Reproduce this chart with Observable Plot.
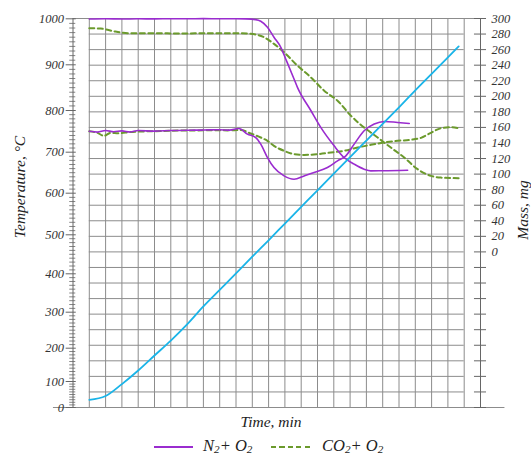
<!DOCTYPE html>
<html><head><meta charset="utf-8">
<script src="https://cdn.jsdelivr.net/npm/d3@7"></script>
<script src="https://cdn.jsdelivr.net/npm/@observablehq/plot@0.6"></script>
<style>
body{margin:0;background:#fff;}
#wrap{position:relative;width:531px;height:456px;overflow:hidden;font-family:"Liberation Serif","DejaVu Serif",serif;font-style:italic;color:#222;}
#wrap svg{position:absolute;left:0;top:0;}
.lbl{position:absolute;font-size:15.5px;white-space:nowrap;line-height:1;}
.rot{transform:translate(-50%,-50%) rotate(-90deg);}
.hc{transform:translate(-50%,-50%);}
.leg{position:absolute;font-size:16.5px;white-space:nowrap;line-height:1;}
.leg sub{font-size:0.68em;vertical-align:-0.22em;line-height:0;}
.sw{position:absolute;height:2px;}
</style></head><body><div id="wrap"></div>
<script>
// ---- data ----
const tempTicks = [0, 100, 200, 300, 400, 500, 600, 700, 800, 900, 1000];
const massTicks = [0, 20, 40, 60, 80, 100, 120, 140, 160, 180, 200, 220, 240, 260, 280, 300];

// furnace temperature, °C (left axis)
const tempTime  = [1, 2, 3, 4, 5, 6, 7, 8, 9, 10, 11, 12, 13, 14, 15, 16, 17, 18, 19, 20, 21, 22, 23, 23.66];
const tempValue = [29, 44, 90, 133, 178, 221, 266, 315, 358, 401, 444, 486, 527, 567, 607, 648, 688, 728, 768, 807, 844, 880, 916, 940];

// N2 + O2, mass, mg (right axis) – upper curve
const n2aTime = [1, 2, 3, 4, 5, 6, 7, 8, 9, 10, 10.6, 11.2, 11.52, 11.93, 12.33, 12.75, 13.05, 13.56, 13.77, 14.6, 15.2, 16.02, 16.63, 17.25, 17.86, 18.27, 19, 20, 20.53];
const n2aMass = [299.4, 299.7, 299.3, 299.6, 299.5, 299.7, 299.6, 299.8, 299.7, 299.7, 299.5, 298.6, 296.5, 288.8, 275.9, 263, 248, 222.3, 211.5, 181.4, 160, 136.3, 121.3, 112.8, 106.3, 104.1, 104.3, 104.6, 105];
// N2 + O2 – lower curve
const n2bTime = [1, 1.5, 2, 2.5, 3, 3.5, 4, 5, 6, 7, 8, 9, 9.6, 10.18, 10.7, 11.21, 11.52, 11.93, 12.33, 12.95, 13.56, 14.18, 14.79, 15.61, 16.23, 16.74, 17.25, 17.86, 18.48, 19.09, 19.91, 20.63];
const n2bMass = [155, 154, 156, 154.5, 155.5, 154.2, 156, 155.2, 156, 156.4, 156.6, 157, 156.5, 158.6, 151.4, 147, 138.5, 121.3, 108.4, 97.7, 93.4, 97.7, 102, 108.4, 117, 123.5, 138.5, 155.7, 164.3, 167.7, 166.4, 165.1];

// CO2 + O2 – upper curve
const co2aTime = [1, 1.7, 2.6, 3.5, 5, 6.5, 8, 9.5, 10.3, 10.9, 11.72, 12.33, 12.95, 13.77, 14.59, 15.41, 16.23, 17.05, 17.86, 18.69, 19.5, 20.32, 21.14, 21.96, 22.57, 23.7];
const co2aMass = [287.5, 287, 283.2, 280.9, 281, 280.8, 281, 281.2, 281, 280.3, 275.9, 267.4, 256.6, 239.4, 224.4, 207.2, 194.3, 175, 159.9, 147, 134.1, 121.3, 106.3, 97.7, 95.5, 94.7];
// CO2 + O2 – lower curve
const co2bTime = [1, 1.5, 1.9, 2.3, 2.8, 3.5, 4.5, 5.5, 6.5, 7.5, 8.5, 9.5, 10.29, 10.9, 11.52, 11.93, 12.33, 12.95, 13.56, 14.18, 15, 15.82, 16.63, 17.46, 18.27, 19.09, 19.91, 20.73, 21.35, 21.96, 22.57, 23.19, 23.68];
const co2bMass = [155, 153, 149.2, 153, 152.5, 154, 155, 155.3, 156, 156, 156.5, 156.2, 156.6, 152.2, 147, 142.8, 136.3, 129.9, 125.6, 124.7, 125.6, 127.7, 129.9, 134.1, 137.6, 140.6, 142.8, 144.1, 146.6, 153.1, 158.9, 160.2, 158.9];

const seriesNames = ["N\u2082+ O\u2082", "CO\u2082+ O\u2082"];

// ---- build ----
const W = 531, H = 430;
const FONT = "Liberation Serif, DejaVu Serif, serif";
const PURPLE = "#9a2ccf", GREEN = "#6b9a2c", CYAN = "#1ab4e8", GRID = "#8c8c8c", AXIS = "#666";
const xOpt = {domain: [0, 25], range: [72.5, 480], axis: null};
const k = v => () => v;   // constant channel

const zip = (ts, vs) => ts.map((t, i) => ({t, v: vs[i]}));
const gridX = d3.range(1, 25);
const gridY = d3.range(-180, 300, 20);
const tickM = d3.range(-200, 301, 20);
const minorT = d3.range(10, 1000, 10).filter(v => v % 100 !== 0);

const plotMass = Plot.plot({
  width: W, height: H,
  x: xOpt,
  y: {domain: [-200, 300], range: [407, 18], axis: null},
  style: {background: "white"},
  marks: [
    Plot.ruleY(gridY, {y: d => d, x1: k(1), x2: k(24), stroke: GRID, strokeWidth: 1}),
    Plot.ruleX(gridX, {x: d => d, y1: k(-200), y2: k(300), stroke: GRID, strokeWidth: 1}),
    Plot.ruleY([300], {y: d => d, x1: k(0), x2: k(25), stroke: GRID}),
    Plot.ruleY([-200], {y: d => d, x1: k(-1.2), x2: k(26.5), stroke: GRID}),
    Plot.ruleX([25], {x: d => d, y1: k(-200), y2: k(300), stroke: AXIS}),
    Plot.ruleY(tickM, {y: d => d, x1: k(24.63), x2: k(25.37), stroke: AXIS}),
    Plot.text(massTicks, {x: k(25), y: d => d, dx: 11, text: d => String(d), textAnchor: "start",
      fontSize: 12.5, fontStyle: "italic", fontFamily: FONT, fill: "#333"}),
    Plot.line(zip(co2aTime, co2aMass), {x: "t", y: "v", stroke: GREEN, strokeWidth: 2, strokeDasharray: "5,3.5", curve: "monotone-x"}),
    Plot.line(zip(co2bTime, co2bMass), {x: "t", y: "v", stroke: GREEN, strokeWidth: 2, strokeDasharray: "5,3.5", curve: "monotone-x"}),
    Plot.line(zip(n2aTime, n2aMass), {x: "t", y: "v", stroke: PURPLE, strokeWidth: 1.6, curve: "monotone-x"}),
    Plot.line(zip(n2bTime, n2bMass), {x: "t", y: "v", stroke: PURPLE, strokeWidth: 1.6, curve: "monotone-x"})
  ]
});

const plotTemp = Plot.plot({
  width: W, height: H,
  x: xOpt,
  y: {type: "linear", domain: tempTicks,
      range: [407, 381, 347.7, 311.7, 273.3, 234.3, 192.7, 151.7, 110, 64.3, 18.3], axis: null},
  style: {background: "transparent"},
  marks: [
    Plot.ruleX([0], {x: d => d, y1: k(0), y2: k(1000), stroke: AXIS}),
    Plot.ruleY(minorT, {y: d => d, x1: k(-0.2), x2: k(0.17), stroke: AXIS, strokeWidth: 0.8}),
    Plot.ruleY(tempTicks, {y: d => d, x1: k(-0.42), x2: k(0.2), stroke: AXIS}),
    Plot.text(tempTicks, {x: k(0), y: d => d, dx: -9, text: d => String(d), textAnchor: "end",
      fontSize: 12.5, fontStyle: "italic", fontFamily: FONT, fill: "#333"}),
    Plot.line(zip(tempTime, tempValue), {x: "t", y: "v", stroke: CYAN, strokeWidth: 1.8, curve: "monotone-x"})
  ]
});

const wrap = document.getElementById("wrap");
wrap.appendChild(plotMass);
wrap.appendChild(plotTemp);

function addLabel(html, cls, left, top) {
  const d = document.createElement("div");
  d.className = cls;
  d.innerHTML = html;
  d.style.left = left + "px";
  d.style.top = top + "px";
  wrap.appendChild(d);
  return d;
}
addLabel("Temperature, \u00B0C", "lbl rot", 20, 187);
addLabel("Mass, mg", "lbl rot", 523, 210);
addLabel("Time, min", "lbl hc", 271, 422);

// legend
const sw1 = document.createElement("div");
sw1.className = "sw";
Object.assign(sw1.style, {left: "154px", top: "446px", width: "39px", background: PURPLE});
wrap.appendChild(sw1);
const sw2 = document.createElement("div");
sw2.className = "sw";
Object.assign(sw2.style, {left: "271px", top: "446px", width: "41px",
  background: `repeating-linear-gradient(90deg, ${GREEN} 0 5px, transparent 5px 8.5px)`});
wrap.appendChild(sw2);
const fmt = s => s.replace(/\u2082/g, "<sub>2</sub>");
addLabel(fmt(seriesNames[0]), "leg", 203, 438);
addLabel(fmt(seriesNames[1]), "leg", 322, 438);
</script>
</body></html>
